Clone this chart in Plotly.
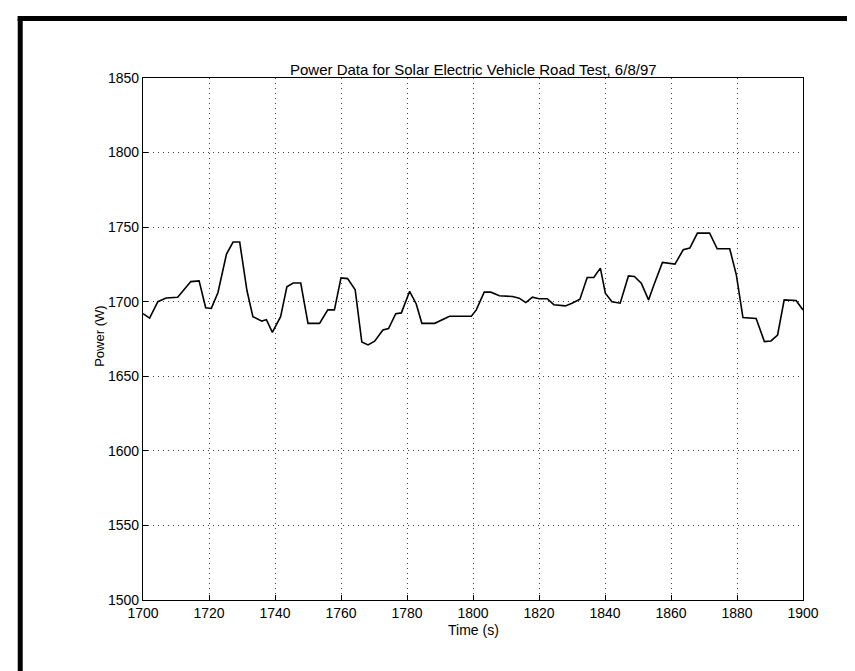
import plotly.graph_objects as go

# values
time_s = [1700, 1702, 1704.5, 1707, 1710.5, 1712.5, 1714.5, 1717, 1719, 1720.7,
          1722.7, 1725.3, 1727.3, 1729.3, 1731.5, 1733.3, 1736, 1737.4, 1739.2, 1741.7,
          1743.6, 1745.5, 1747.8, 1750, 1753.5, 1756, 1758, 1760, 1762, 1764.3,
          1766.3, 1768.2, 1770.2, 1772.7, 1774.4, 1776.6, 1778.3, 1780.8, 1782.8, 1784.5,
          1788.4, 1792.9, 1799.5, 1801, 1803.4, 1805.4, 1808, 1812, 1814, 1816,
          1818, 1820, 1822.5, 1824.5, 1828, 1830, 1832.4, 1834.6, 1836.6, 1838.6,
          1840.1, 1842.1, 1844.6, 1847.1, 1848.9, 1851, 1853.2, 1854.7, 1857.4, 1861.2,
          1863.7, 1865.7, 1868, 1871.7, 1874, 1877.8, 1879.8, 1881.8, 1885.8, 1888.3,
          1890.3, 1892.3, 1894.3, 1897.9, 1900]
power_w = [1692, 1689, 1700, 1702.5, 1703, 1708, 1713.5, 1714, 1696, 1695.5,
           1706, 1732, 1740, 1740, 1707.5, 1690, 1687, 1688, 1679.5, 1690,
           1710, 1712.5, 1712.5, 1685.5, 1685.5, 1694.5, 1694.5, 1716, 1715.5, 1708,
           1673, 1671, 1673.5, 1681, 1682, 1692, 1692.5, 1707, 1698.5, 1685.5,
           1685.5, 1690.3, 1690.3, 1694.5, 1706.4, 1706.4, 1704, 1703.5, 1702.4, 1699.4,
           1703, 1702, 1702, 1698, 1697.2, 1699, 1701.7, 1716.2, 1716.2, 1722.5,
           1705.7, 1700, 1699, 1717.3, 1716.9, 1712.4, 1701.2, 1710.6, 1726.3, 1725.2,
           1734.8, 1736, 1746, 1746, 1735.5, 1735.5, 1718, 1689.4, 1688.7, 1673.3,
           1673.7, 1677.7, 1701.2, 1700.8, 1694.5]

font = "Liberation Sans, Arial, sans-serif"

fig = go.Figure()
fig.add_trace(go.Scatter(x=time_s, y=power_w, mode="lines",
                         line=dict(color="black", width=1.6), showlegend=False))

axis_style = dict(showline=True, mirror=True, linecolor="black", linewidth=1.2,
                  ticks="inside", ticklen=5, tickcolor="black",
                  showgrid=True, gridcolor="#444", gridwidth=1, griddash="1px,4px",
                  zeroline=False, tickfont=dict(family=font, size=14, color="black"))

fig.update_xaxes(range=[1700, 1900], dtick=20, tick0=1700, **axis_style)
fig.update_yaxes(range=[1500, 1850], dtick=50, tick0=1500, **axis_style)

# frame around the scanned page
frame = dict(type="line", xref="paper", yref="paper", line=dict(color="black", width=5))
fig.add_shape(x0=-0.186, x1=-0.186, y0=1.114, y1=-0.17, **frame)
fig.add_shape(x0=-0.19, x1=1.09, y0=1.114, y1=1.114, **frame)
fig.add_shape(x0=1.085, x1=1.085, y0=1.114, y1=-0.17, **frame)

fig.add_annotation(text="Power Data for Solar Electric Vehicle Road Test, 6/8/97",
                   xref="paper", yref="paper", x=0.5, y=1.017, showarrow=False,
                   xanchor="center", yanchor="middle",
                   font=dict(family=font, size=15, color="black"))
fig.add_annotation(text="Time (s)", xref="paper", yref="paper", x=0.5, y=-0.058,
                   showarrow=False, xanchor="center", yanchor="middle",
                   font=dict(family=font, size=14, color="black"))
fig.add_annotation(text="Power (W)", xref="paper", yref="paper", x=-0.066, y=0.505,
                   textangle=-90, showarrow=False, xanchor="center", yanchor="middle",
                   font=dict(family=font, size=13, color="black"))

fig.update_layout(width=855, height=671, autosize=False,
                  margin=dict(l=135, r=60, t=70, b=79),
                  paper_bgcolor="white", plot_bgcolor="white",
                  font=dict(family=font, color="black"))

fig.write_html("out.html")
